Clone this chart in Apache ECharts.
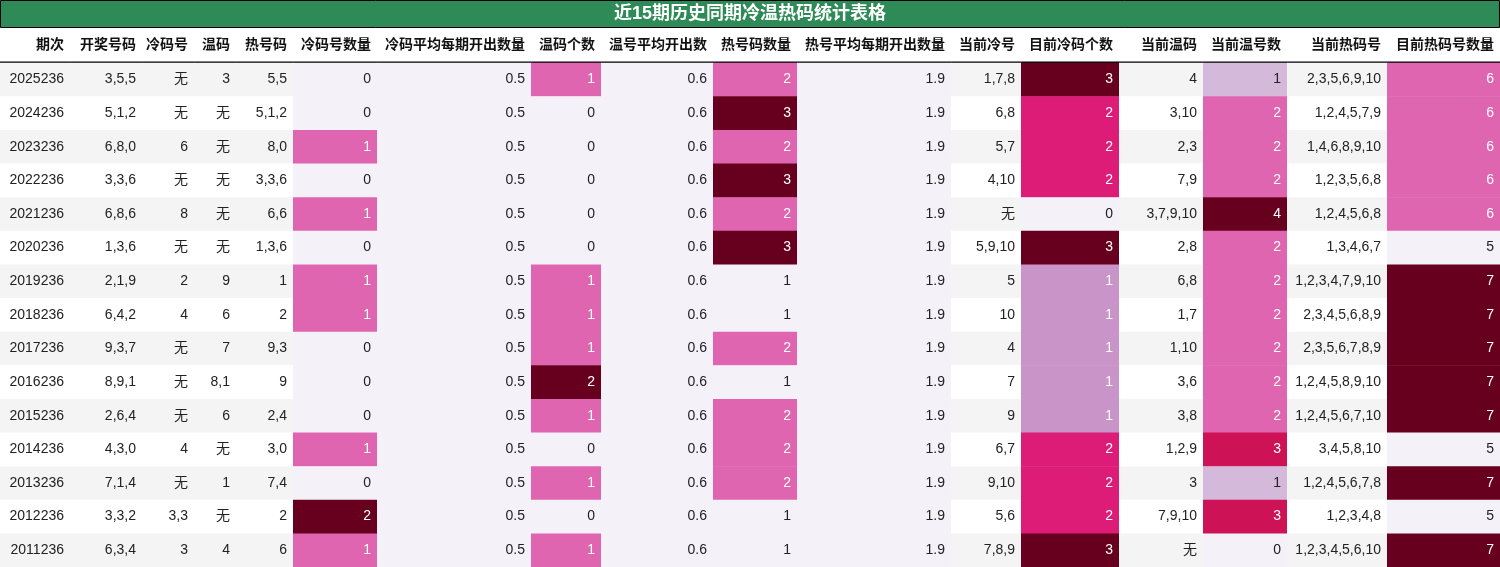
<!DOCTYPE html>
<html><head><meta charset="utf-8">
<script src="https://cdn.jsdelivr.net/npm/echarts@6/dist/echarts.min.js"></script>
<style>html,body{margin:0;padding:0;background:#fff}#c{width:1500px;height:567px}</style>
</head><body><div id="c"></div>
<script>
const title = '近15期历史同期冷温热码统计表格';
const headers = ['期次','开奖号码','冷码号','温码','热号码','冷码号数量','冷码平均每期开出数量','温码个数','温号平均开出数','热号码数量','热号平均每期开出数量','当前冷号','目前冷码个数','当前温码','当前温号数','当前热码号','目前热码号数量'];
const periods = ['2025236','2024236','2023236','2022236','2021236','2020236','2019236','2018236','2017236','2016236','2015236','2014236','2013236','2012236','2011236'];
const draws = ['3,5,5','5,1,2','6,8,0','3,3,6','6,8,6','1,3,6','2,1,9','6,4,2','9,3,7','8,9,1','2,6,4','4,3,0','7,1,4','3,3,2','6,3,4'];
const coldNums = ['无','无','6','无','8','无','2','4','无','无','无','4','无','3,3','3'];
const warmNums = ['3','无','无','无','无','无','9','6','7','8,1','6','无','1','无','4'];
const hotNums = ['5,5','5,1,2','8,0','3,3,6','6,6','1,3,6','1','2','9,3','9','2,4','3,0','7,4','2','6'];
const coldCnt = [0,0,1,0,1,0,1,1,0,0,0,1,0,2,1];
const coldAvg = [0.5,0.5,0.5,0.5,0.5,0.5,0.5,0.5,0.5,0.5,0.5,0.5,0.5,0.5,0.5];
const warmCnt = [1,0,0,0,0,0,1,1,1,2,1,0,1,0,1];
const warmAvg = [0.6,0.6,0.6,0.6,0.6,0.6,0.6,0.6,0.6,0.6,0.6,0.6,0.6,0.6,0.6];
const hotCnt = [2,3,2,3,2,3,1,1,2,1,2,2,2,1,1];
const hotAvg = [1.9,1.9,1.9,1.9,1.9,1.9,1.9,1.9,1.9,1.9,1.9,1.9,1.9,1.9,1.9];
const curCold = ['1,7,8','6,8','5,7','4,10','无','5,9,10','5','10','4','7','9','6,7','9,10','5,6','7,8,9'];
const curColdCnt = [3,2,2,2,0,3,1,1,1,1,1,2,2,2,3];
const curWarm = ['4','3,10','2,3','7,9','3,7,9,10','2,8','6,8','1,7','1,10','3,6','3,8','1,2,9','3','7,9,10','无'];
const curWarmCnt = [1,2,2,2,4,2,2,2,2,2,2,3,1,3,0];
const curHot = ['2,3,5,6,9,10','1,2,4,5,7,9','1,4,6,8,9,10','1,2,3,5,6,8','1,2,4,5,6,8','1,3,4,6,7','1,2,3,4,7,9,10','2,3,4,5,6,8,9','2,3,5,6,7,8,9','1,2,4,5,8,9,10','1,2,4,5,6,7,10','3,4,5,8,10','1,2,4,5,6,7,8','1,2,3,4,8','1,2,3,4,5,6,10'];
const curHotCnt = [6,6,6,6,6,5,7,7,7,7,7,5,7,5,7];

const columns = [periods,draws,coldNums,warmNums,hotNums,coldCnt,coldAvg,warmCnt,warmAvg,hotCnt,hotAvg,curCold,curColdCnt,curWarm,curWarmCnt,curHot,curHotCnt];
// layout
const edges = [0,70,142,194,236,293,377,531,601,713,797,951,1021,1119,1203,1287,1387,1500];
const LAV = '#f4f2f8';
const palettes = {
  5: {0:LAV,1:'#df65b0',2:'#67001f'},
  6: {}, 8: {}, 10: {},
  7: {0:LAV,1:'#df65b0',2:'#67001f'},
  9: {1:LAV,2:'#df65b0',3:'#67001f'},
  12:{0:LAV,1:'#c994c7',2:'#dd1c77',3:'#67001f'},
  14:{0:LAV,1:'#d4b9da',2:'#df65b0',3:'#ce1256',4:'#67001f'},
  16:{5:LAV,6:'#df65b0',7:'#67001f'}
};
const rowCats = ['h'].concat(periods);
const cells = [];
headers.forEach((h,c)=>cells.push([c,0,h]));
columns.forEach((col,c)=>col.forEach((v,r)=>cells.push([c,r+1,v])));
const FONT = '"Liberation Sans","Noto Sans CJK SC",sans-serif';

const chart = echarts.init(document.getElementById('c'));
chart.setOption({
  animation:false,
  graphic:[
    {type:'rect',shape:{x:0.5,y:0.5,width:1499,height:27},style:{fill:'#2e8b57',stroke:'#000',lineWidth:1}},
    {type:'text',x:750,y:14,style:{text:title,fill:'#fff',font:'bold 18px '+FONT,align:'center',verticalAlign:'middle'}}
  ],
  grid:{left:0,right:0,top:29,bottom:0},
  xAxis:{type:'value',min:0,max:1500,show:false},
  yAxis:{type:'category',data:rowCats,inverse:true,show:false},
  series:[{
    type:'custom',
    data:cells,
    encode:{x:0,y:1},
    renderItem:function(params,api){
      const c=api.value(0), r=api.value(1);
      const v=cells[params.dataIndex][2];
      const p0=api.coord([edges[c],r]);
      const p1=api.coord([edges[c+1],r]);
      const h=api.size([0,1])[1];
      const x=p0[0], y=p0[1]-h/2, w=p1[0]-p0[0];
      let fill, txt='#222', font='14px '+FONT;
      if(r===0){fill='#fff'; font='bold 14px '+FONT; txt='#111';}
      else if(palettes[c]){
        fill=palettes[c][v]||LAV;
        if(fill!==LAV && fill!=='#d4b9da') txt='#fff';
      } else fill=(r%2===1)?'#f4f4f4':'#fff';
      const children=[
        {type:'rect',shape:{x:x,y:y,width:w+0.5,height:h+0.5},style:{fill:fill}},
        {type:'text',x:p1[0]-6,y:p0[1]+(r===0?-1:0),style:{text:String(v),fill:txt,font:font,align:'right',verticalAlign:'middle'}}
      ];
      if(r===0) children.push({type:'line',shape:{x1:x,y1:y+h-0.5,x2:x+w+1,y2:y+h-0.5},style:{stroke:'#000',lineWidth:1.5}});
      return {type:'group',children:children};
    }
  }]
});
</script></body></html>
